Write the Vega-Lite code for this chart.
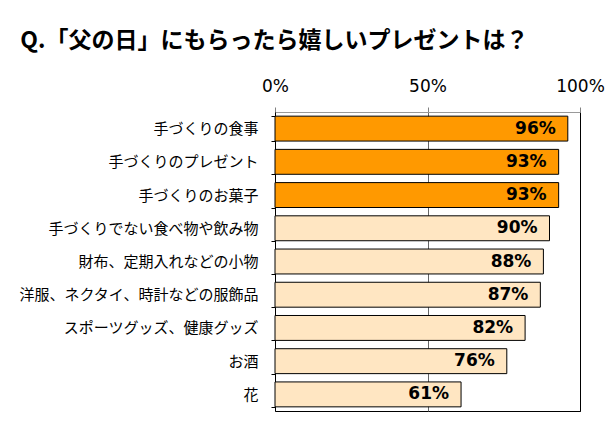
{
  "$schema": "https://vega.github.io/schema/vega-lite/v6.json",
  "width": 305,
  "height": 299,
  "autosize": {"type": "none"},
  "padding": {"left": 275, "top": 112, "right": 31, "bottom": 18},
  "background": "white",
  "title": {
    "text": "Q.「父の日」にもらったら嬉しいプレゼントは？",
    "anchor": "start",
    "frame": "bounds",
    "dx": 2,
    "offset": 24,
    "font": "Noto Sans CJK JP",
    "fontSize": 23,
    "fontWeight": "bold",
    "color": "#000000"
  },
  "config": {
    "view": {"stroke": "#000000", "strokeWidth": 1}
  },
  "data": {
    "values": [
      {"item": "手づくりの食事", "pct": 96, "label": "96%", "group": "top"},
      {"item": "手づくりのプレゼント", "pct": 93, "label": "93%", "group": "top"},
      {"item": "手づくりのお菓子", "pct": 93, "label": "93%", "group": "top"},
      {"item": "手づくりでない食べ物や飲み物", "pct": 90, "label": "90%", "group": "other"},
      {"item": "財布、定期入れなどの小物", "pct": 88, "label": "88%", "group": "other"},
      {"item": "洋服、ネクタイ、時計などの服飾品", "pct": 87, "label": "87%", "group": "other"},
      {"item": "スポーツグッズ、健康グッズ", "pct": 82, "label": "82%", "group": "other"},
      {"item": "お酒", "pct": 76, "label": "76%", "group": "other"},
      {"item": "花", "pct": 61, "label": "61%", "group": "other"}
    ]
  },
  "encoding": {
    "y": {
      "field": "item",
      "type": "nominal",
      "sort": null,
      "scale": {"paddingInner": 0.25, "paddingOuter": 0.125},
      "axis": {
        "title": null,
        "labelFont": "Noto Sans CJK JP",
        "labelFontSize": 15,
        "labelColor": "#000000",
        "labelPadding": 13,
        "tickBand": "extent",
        "tickSize": 4,
        "tickColor": "#000000",
        "domainColor": "#000000",
        "labelLimit": 300
      }
    },
    "x": {
      "field": "pct",
      "type": "quantitative",
      "scale": {"domain": [0, 100], "nice": false},
      "axis": {
        "orient": "top",
        "title": null,
        "values": [0, 50, 100],
        "labelExpr": "datum.value + '%'",
        "labelFont": "DejaVu Sans",
        "labelFontSize": 17,
        "labelColor": "#000000",
        "labelPadding": 12,
        "tickSize": 5,
        "tickColor": "#808080",
        "domainColor": "#999999",
        "grid": true,
        "gridColor": {"condition": {"test": "datum.value === 100", "value": "#000000"}, "value": "#666666"},
        "labelFlush": false
      }
    }
  },
  "layer": [
    {
      "mark": {"type": "bar", "stroke": "#000000", "strokeWidth": 1},
      "encoding": {
        "color": {
          "field": "group",
          "type": "nominal",
          "scale": {"domain": ["top", "other"], "range": ["#FF9900", "#FFE6C2"]},
          "legend": null
        }
      }
    },
    {
      "mark": {"type": "text", "align": "right", "dx": -12, "font": "DejaVu Sans", "fontSize": 17, "fontWeight": "bold", "color": "#000000"},
      "encoding": {
        "text": {"field": "label", "type": "nominal"}
      }
    }
  ]
}
